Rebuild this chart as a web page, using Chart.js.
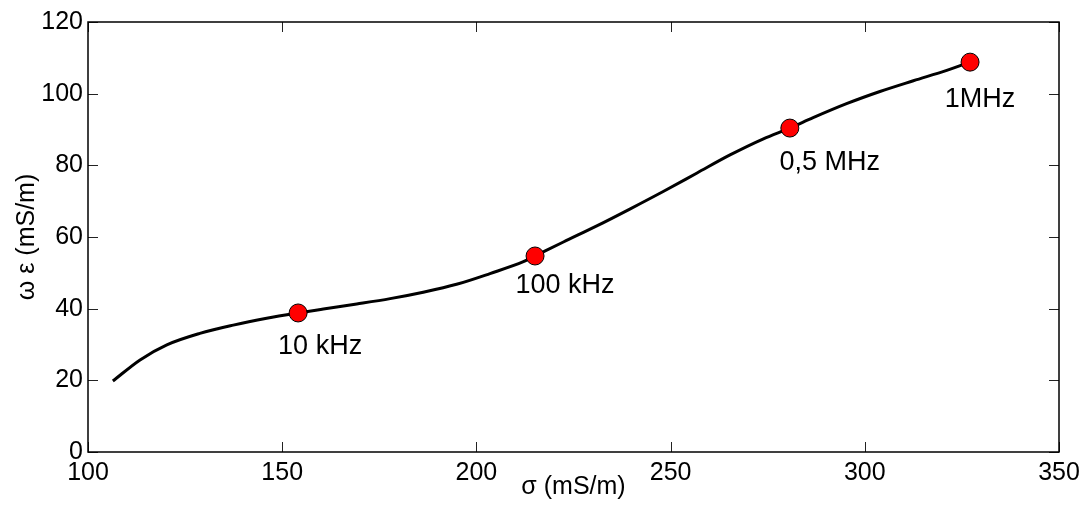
<!DOCTYPE html>
<html>
<head>
<meta charset="utf-8">
<script src="https://cdn.jsdelivr.net/npm/chart.js@4/dist/chart.umd.min.js"></script>
<style>
  html, body { margin: 0; padding: 0; background: #fff; }
  #wrap { width: 1087px; height: 514px; }
</style>
</head>
<body>
<div id="wrap"><canvas id="c" width="1087" height="514"></canvas></div>
<script>
// curve: sigma (mS/m) vs omega*eps (mS/m)
const sigma = [106.4, 113.4, 120.3, 128.8, 137.4, 146.0, 154.1, 160.6, 169.2, 177.8, 186.3, 194.9, 203.5, 212.1, 215.1,
  222.4, 231.0, 239.5, 248.1, 256.7, 265.3, 273.9, 280.7, 286.7, 295.3, 303.9, 312.5, 321.1, 327.1];
const omegaEps = [19.8, 25.7, 29.9, 33.1, 35.4, 37.3, 38.8, 39.9, 41.3, 42.8, 44.6, 46.8, 49.8, 53.1, 54.7,
  58.6, 63.1, 67.8, 72.7, 77.8, 82.9, 87.4, 90.4, 93.3, 97.2, 100.6, 103.6, 106.5, 108.8];

// frequency markers
const markerSigma = [154.1, 215.1, 280.7, 327.1];
const markerOmegaEps = [38.8, 54.7, 90.4, 108.8];
const markerLabels = ['10 kHz', '100 kHz', '0,5 MHz', '1MHz'];

const xTicks = [100, 150, 200, 250, 300, 350];
const yTicks = [0, 20, 40, 60, 80, 100, 120];

const FONT = 'Liberation Sans, Arial, sans-serif';

// inward ticks on all four sides + box
const frameTicks = {
  id: 'frameTicks',
  afterDraw(chart) {
    const { ctx, chartArea: a, scales: { x, y } } = chart;
    ctx.save();
    ctx.strokeStyle = '#222';
    ctx.lineWidth = 1;
    xTicks.forEach(v => {
      const px = Math.round(x.getPixelForValue(v)) + 0.5;
      ctx.beginPath();
      ctx.moveTo(px, a.bottom); ctx.lineTo(px, a.bottom - 10);
      ctx.moveTo(px, a.top); ctx.lineTo(px, a.top + 10);
      ctx.stroke();
    });
    yTicks.forEach(v => {
      const py = Math.round(y.getPixelForValue(v)) + 0.5;
      ctx.beginPath();
      ctx.moveTo(a.left, py); ctx.lineTo(a.left + 10, py);
      ctx.moveTo(a.right, py); ctx.lineTo(a.right - 10, py);
      ctx.stroke();
    });
    ctx.strokeStyle = '#000';
    ctx.lineWidth = 1.5;
    ctx.strokeRect(a.left, a.top, a.right - a.left, a.bottom - a.top);
    ctx.restore();
  }
};

// frequency labels next to markers
const markerText = {
  id: 'markerText',
  afterDatasetsDraw(chart, args, opts) {
    const { ctx, scales: { x, y } } = chart;
    ctx.save();
    ctx.font = '27px ' + FONT;
    ctx.fillStyle = '#000';
    ctx.textAlign = 'center';
    ctx.textBaseline = 'middle';
    markerLabels.forEach((t, i) => {
      const off = opts.offsets[i];
      ctx.fillText(t, x.getPixelForValue(markerSigma[i]) + off[0], y.getPixelForValue(markerOmegaEps[i]) + off[1]);
    });
    ctx.restore();
  }
};

new Chart(document.getElementById('c'), {
  type: 'scatter',
  data: {
    datasets: [
      {
        data: markerSigma.map((s, i) => ({ x: s, y: markerOmegaEps[i] })),
        backgroundColor: '#ff0000',
        borderColor: '#000',
        borderWidth: 1,
        pointRadius: 9,
        order: 0
      },
      {
        data: sigma.map((s, i) => ({ x: s, y: omegaEps[i] })),
        showLine: true,
        borderColor: '#000',
        borderWidth: 3,
        pointRadius: 0,
        cubicInterpolationMode: 'monotone',
        order: 1
      }
    ]
  },
  options: {
    responsive: false,
    animation: false,
    layout: { padding: { left: 0, right: 28, top: 22, bottom: 0 } },
    plugins: {
      legend: { display: false },
      tooltip: { enabled: false },
      markerText: { offsets: [[22, 34], [30, 30], [40, 34], [10, 37]] }
    },
    scales: {
      x: {
        type: 'linear', min: 100, max: 350,
        afterBuildTicks: s => { s.ticks = xTicks.map(v => ({ value: v })); },
        afterFit: s => { s.height = 62; },
        grid: { display: false, drawTicks: false },
        border: { display: false },
        ticks: { color: '#000', padding: 6, font: { family: FONT, size: 25 } },
        title: { display: true, text: 'σ (mS/m)', color: '#000', padding: { top: 0, bottom: 12 }, font: { family: FONT, size: 25 } }
      },
      y: {
        type: 'linear', min: 0, max: 120,
        afterBuildTicks: s => { s.ticks = yTicks.map(v => ({ value: v })); },
        afterFit: s => { s.width = 88; },
        grid: { display: false, drawTicks: false },
        border: { display: false },
        ticks: { color: '#000', padding: 5, font: { family: FONT, size: 25 } },
        title: { display: true, text: 'ω ε (mS/m)', color: '#000', padding: { top: 12, bottom: 0 }, font: { family: FONT, size: 25 } }
      }
    }
  },
  plugins: [frameTicks, markerText]
});
</script>
</body>
</html>
